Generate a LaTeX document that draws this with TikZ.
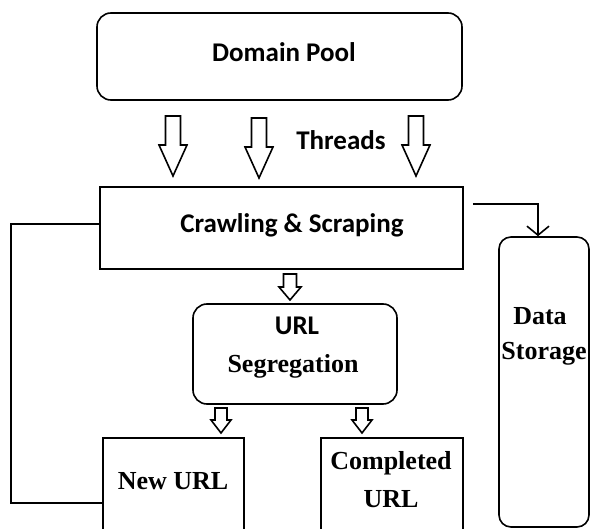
\documentclass[tikz,border=0pt]{standalone}
\usepackage{fontspec}
\setmainfont{Liberation Serif}
\newfontfamily\calibri{Carlito}
\usetikzlibrary{arrows.meta}

\tikzset{
    box/.style={draw, line width=1.6pt, inner sep=0pt},
    roundbox/.style={box, rounded corners=14pt},
    sanslabel/.style={font=\calibri\bfseries\fontsize{27}{30}\selectfont, anchor=base, inner sep=0pt},
    seriflabel/.style={font=\bfseries\fontsize{26}{30}\selectfont, anchor=base, inner sep=0pt},
    hollow/.style={draw, line width=1.6pt, fill=white, line join=miter},
    link/.style={draw, line width=1.6pt},
}
% x, top, head start, tip, half shaft, half head
\newcommand{\blockarrow}[6]{%
    \draw[hollow] (#1-#5,#2) -- (#1+#5,#2) -- (#1+#5,#3) -- (#1+#6,#3) -- (#1,#4) -- (#1-#6,#3) -- (#1-#5,#3) -- cycle;
}

\begin{document}
\begin{tikzpicture}[x=1pt, y=-1pt]
    \useasboundingbox (0,0) rectangle (590,529);
    \clip (0,0) rectangle (590,529);
    % boxes
    \node[roundbox, minimum width=365pt, minimum height=87pt] (pool) at (279.5,56.5) {};
    \node[box, minimum width=363pt, minimum height=82pt] (crawl) at (281.5,228) {};
    \node[roundbox, minimum width=204pt, minimum height=100pt] (seg) at (295,354) {};
    \node[box, minimum width=141pt, minimum height=130pt] (newurl) at (173.5,503) {};
    \node[box, minimum width=142pt, minimum height=130pt] (doneurl) at (392,503) {};
    \node[roundbox, rounded corners=12pt, minimum width=90pt, minimum height=290pt] (store) at (544,382) {};
    % texts
    \node[sanslabel] (pooltext) at (284,62) {Domain Pool};
    \node[sanslabel] (threads) at (341,150) {Threads};
    \node[sanslabel] (crawltext) at (292,233) {Crawling \& Scraping};
    \node[sanslabel] (segtop) at (297,335) {URL};
    \node[seriflabel] (segbottom) at (293,373) {Segregation};
    \node[seriflabel] (storetop) at (540,325) {Data};
    \node[seriflabel] (storebottom) at (544,360) {Storage};
    \node[seriflabel] (newtext) at (173,490) {New URL};
    \node[seriflabel] (donetop) at (391,470) {Completed};
    \node[seriflabel] (donebottom) at (391,508) {URL};
    % block arrows
    \blockarrow{173}{116}{145}{176}{7.5}{14}
    \blockarrow{259}{118}{147}{178}{7.5}{14}
    \blockarrow{416}{116}{145}{176}{7.5}{14}
    \blockarrow{290}{274}{287}{300}{6.5}{11}
    \blockarrow{221}{408}{420}{433}{6}{10}
    \blockarrow{362}{408}{420}{433}{6}{10}
    % connectors
    \draw[link] ([yshift=4pt]crawl.west) -- ++(-88,0) |- (newurl.west);
    \draw[link, -{Straight Barb[length=9pt,width=22pt]}] ([xshift=9pt,yshift=24pt]crawl.east) -| ([xshift=-6pt]store.north);
\end{tikzpicture}
\end{document}
